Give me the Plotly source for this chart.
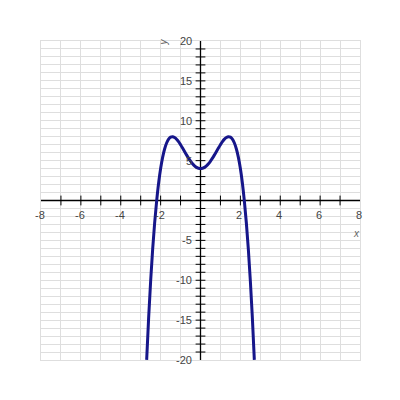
import plotly.graph_objects as go

# curve points
curve_x = [-2.7, -2.6, -2.5, -2.4, -2.3, -2.2, -2.1, -2.0, -1.9, -1.8, -1.7, -1.6, -1.5, -1.4,
           -1.3, -1.2, -1.1, -1.0, -0.9, -0.8, -0.7, -0.6, -0.5, -0.4, -0.3, -0.2, -0.1, 0.0,
           0.1, 0.2, 0.3, 0.4, 0.5, 0.6, 0.7, 0.8, 0.9, 1.0, 1.1, 1.2, 1.3, 1.4, 1.5, 1.6,
           1.7, 1.8, 1.9, 2.0, 2.1, 2.2, 2.3, 2.4, 2.5, 2.6, 2.7]
curve_y = [-19.98, -14.66, -10.06, -6.14, -2.82, -0.07, 2.19, 4.0, 5.41, 6.46, 7.21, 7.69, 7.94, 8.0,
           7.90, 7.69, 7.38, 7.0, 6.58, 6.15, 5.72, 5.31, 4.94, 4.61, 4.35, 4.16, 4.04, 4.0,
           4.04, 4.16, 4.35, 4.61, 4.94, 5.31, 5.72, 6.15, 6.58, 7.0, 7.38, 7.69, 7.90, 8.0, 7.94, 7.69,
           7.21, 6.46, 5.41, 4.0, 2.19, -0.07, -2.82, -6.14, -10.06, -14.66, -19.98]

x_tick_labels = [-8, -6, -4, -2, 2, 4, 6, 8]
y_tick_labels = [-20, -15, -10, -5, 5, 10, 15, 20]
x_minor = [v for v in range(-7, 8) if v != 0]
y_minor = [v for v in range(-19, 20) if v != 0]

fig = go.Figure()

# axes lines
fig.add_trace(go.Scatter(x=[-8.35, 8.35], y=[0, 0], mode="lines",
                         line=dict(color="black", width=1.3), cliponaxis=False, hoverinfo="skip"))
fig.add_trace(go.Scatter(x=[0, 0], y=[-20.9, 20.9], mode="lines",
                         line=dict(color="black", width=1.3), cliponaxis=False, hoverinfo="skip"))
# tick marks
fig.add_trace(go.Scatter(x=x_minor, y=[0] * len(x_minor), mode="markers",
                         marker=dict(symbol="line-ns", size=7, line=dict(color="black", width=1)),
                         cliponaxis=False, hoverinfo="skip"))
fig.add_trace(go.Scatter(x=[0] * len(y_minor), y=y_minor, mode="markers",
                         marker=dict(symbol="line-ew", size=7, line=dict(color="black", width=1)),
                         cliponaxis=False, hoverinfo="skip"))
# arrows
fig.add_trace(go.Scatter(x=[-8.25, 8.25], y=[0, 0], mode="markers",
                         marker=dict(symbol=["triangle-left", "triangle-right"], size=10, color="black"),
                         cliponaxis=False, hoverinfo="skip"))
fig.add_trace(go.Scatter(x=[0, 0], y=[20.6, -20.6], mode="markers",
                         marker=dict(symbol=["triangle-up", "triangle-down"], size=10, color="black"),
                         cliponaxis=False, hoverinfo="skip"))

# curve
fig.add_trace(go.Scatter(x=curve_x, y=curve_y, mode="lines", line_shape="spline",
                         line=dict(color="#16168a", width=3), hoverinfo="skip"))

annotations = []
for v in x_tick_labels:
    annotations.append(dict(x=v, y=0, text=str(v), showarrow=False, xanchor="center",
                            yanchor="middle", yshift=-14, xshift=-1,
                            font=dict(family="Arial, Liberation Sans", size=11, color="#444")))
for v in y_tick_labels:
    annotations.append(dict(x=0, y=v, text=str(v), showarrow=False, xanchor="right",
                            yanchor="middle", xshift=-7,
                            font=dict(family="Arial, Liberation Sans", size=11, color="#444")))
annotations.append(dict(x=-1.9, y=20, text="<i>y</i>", showarrow=False, textangle=-90,
                        xanchor="center", yanchor="middle", yshift=-1,
                        font=dict(family="Arial, Liberation Sans", size=10, color="#666")))
annotations.append(dict(x=7.8, y=-4.1, text="<i>x</i>", showarrow=False,
                        xanchor="center", yanchor="middle",
                        font=dict(family="Arial, Liberation Sans", size=10, color="#666")))

fig.update_layout(
    width=400, height=400,
    margin=dict(l=33, r=48, t=33, b=48),
    paper_bgcolor="white", plot_bgcolor="white",
    showlegend=False,
    annotations=annotations,
    xaxis=dict(range=[-8, 8], dtick=1, showgrid=True, gridcolor="#dedede", gridwidth=1,
               zeroline=False, showticklabels=False, showline=True, mirror=True,
               linecolor="#dedede", linewidth=1, fixedrange=True),
    yaxis=dict(range=[-20, 20], dtick=1, showgrid=True, gridcolor="#dedede", gridwidth=1,
               zeroline=False, showticklabels=False, showline=True, mirror=True,
               linecolor="#dedede", linewidth=1, fixedrange=True),
)

fig.write_html("out.html", config={"displayModeBar": False})
